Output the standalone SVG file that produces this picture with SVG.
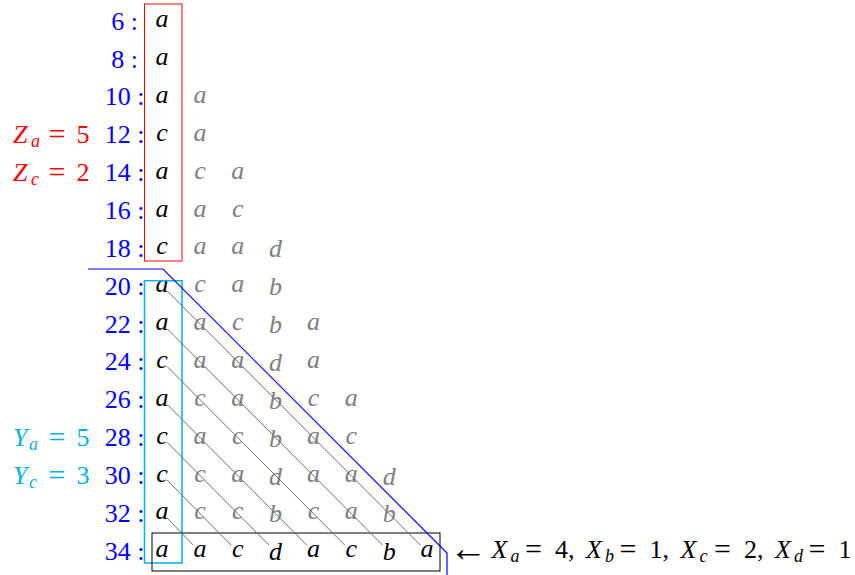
<svg xmlns="http://www.w3.org/2000/svg" width="855" height="575" viewBox="0 0 855 575" font-family="'Liberation Serif', 'DejaVu Serif', serif" font-size="26">
<style>
.k { fill: #000; font-style: italic; text-anchor: middle; }
.g { fill: #808080; font-style: italic; text-anchor: middle; }
.n { fill: #0000ff; text-anchor: middle; }
.it { font-style: italic; }
.sub { font-size: 18px; font-style: italic; }
.eq { font-size: 30px; }
.red { fill: #ff0000; }
.cy { fill: #00b0f0; }
.diag { stroke: #707070; stroke-width: 1; fill: none; }
</style>
<rect width="855" height="575" fill="#fff"/>

<g id="row-labels">
<text class="n" x="124.5" y="29.7">6 :</text>
<text class="n" x="124.5" y="67.6">8 :</text>
<text class="n" x="124.5" y="105.4">10 :</text>
<text class="n" x="124.5" y="143.3">12 :</text>
<text class="n" x="124.5" y="181.1">14 :</text>
<text class="n" x="124.5" y="219.0">16 :</text>
<text class="n" x="124.5" y="256.9">18 :</text>
<text class="n" x="124.5" y="294.7">20 :</text>
<text class="n" x="124.5" y="332.6">22 :</text>
<text class="n" x="124.5" y="370.4">24 :</text>
<text class="n" x="124.5" y="408.3">26 :</text>
<text class="n" x="124.5" y="446.2">28 :</text>
<text class="n" x="124.5" y="484.0">30 :</text>
<text class="n" x="124.5" y="521.9">32 :</text>
<text class="n" x="124.5" y="559.7">34 :</text>
</g>

<g id="z-labels" class="red">
<text x="13" y="143.3"><tspan class="it">Z</tspan><tspan class="sub" x="31" dy="4">a</tspan><tspan class="eq" x="48.5" dy="-3">=</tspan><tspan x="76.5" dy="-1">5</tspan></text>
<text x="13" y="181.1"><tspan class="it">Z</tspan><tspan class="sub" x="31" dy="4">c</tspan><tspan class="eq" x="48.5" dy="-3">=</tspan><tspan x="76.5" dy="-1">2</tspan></text>
</g>

<g id="y-labels" class="cy">
<text x="13" y="446.2"><tspan class="it">Y</tspan><tspan class="sub" x="29" dy="4">a</tspan><tspan class="eq" x="48.5" dy="-3">=</tspan><tspan x="76.5" dy="-1">5</tspan></text>
<text x="13" y="484.0"><tspan class="it">Y</tspan><tspan class="sub" x="29" dy="4">c</tspan><tspan class="eq" x="48.5" dy="-3">=</tspan><tspan x="76.5" dy="-1">3</tspan></text>
</g>

<g id="matrix">
<g id="row-6"><text class="k" x="162" y="27.2">a</text></g>
<g id="row-8"><text class="k" x="162" y="65.1">a</text></g>
<g id="row-10"><text class="k" x="162" y="102.9">a</text><text class="g" x="199.9" y="102.9">a</text></g>
<g id="row-12"><text class="k" x="162" y="140.8">c</text><text class="g" x="199.9" y="140.8">a</text></g>
<g id="row-14"><text class="k" x="162" y="178.6">a</text><text class="g" x="199.9" y="178.6">c</text><text class="g" x="237.7" y="178.6">a</text></g>
<g id="row-16"><text class="k" x="162" y="216.5">a</text><text class="g" x="199.9" y="216.5">a</text><text class="g" x="237.7" y="216.5">c</text></g>
<g id="row-18"><text class="k" x="162" y="254.4">c</text><text class="g" x="199.9" y="254.4">a</text><text class="g" x="237.7" y="254.4">a</text><text class="g" x="275.6" y="257.4">d</text></g>
<g id="row-20"><text class="k" x="162" y="292.2">a</text><text class="g" x="199.9" y="292.2">c</text><text class="g" x="237.7" y="292.2">a</text><text class="g" x="275.6" y="295.2">b</text></g>
<g id="row-22"><text class="k" x="162" y="330.1">a</text><text class="g" x="199.9" y="330.1">a</text><text class="g" x="237.7" y="330.1">c</text><text class="g" x="275.6" y="333.1">b</text><text class="g" x="313.4" y="330.1">a</text></g>
<g id="row-24"><text class="k" x="162" y="367.9">c</text><text class="g" x="199.9" y="367.9">a</text><text class="g" x="237.7" y="367.9">a</text><text class="g" x="275.6" y="370.9">d</text><text class="g" x="313.4" y="367.9">a</text></g>
<g id="row-26"><text class="k" x="162" y="405.8">a</text><text class="g" x="199.9" y="405.8">c</text><text class="g" x="237.7" y="405.8">a</text><text class="g" x="275.6" y="408.8">b</text><text class="g" x="313.4" y="405.8">c</text><text class="g" x="351.3" y="405.8">a</text></g>
<g id="row-28"><text class="k" x="162" y="443.7">c</text><text class="g" x="199.9" y="443.7">a</text><text class="g" x="237.7" y="443.7">c</text><text class="g" x="275.6" y="446.7">b</text><text class="g" x="313.4" y="443.7">a</text><text class="g" x="351.3" y="443.7">c</text></g>
<g id="row-30"><text class="k" x="162" y="481.5">c</text><text class="g" x="199.9" y="481.5">c</text><text class="g" x="237.7" y="481.5">a</text><text class="g" x="275.6" y="484.5">d</text><text class="g" x="313.4" y="481.5">a</text><text class="g" x="351.3" y="481.5">a</text><text class="g" x="389.2" y="484.5">d</text></g>
<g id="row-32"><text class="k" x="162" y="519.4">a</text><text class="g" x="199.9" y="519.4">c</text><text class="g" x="237.7" y="519.4">c</text><text class="g" x="275.6" y="522.4">b</text><text class="g" x="313.4" y="519.4">c</text><text class="g" x="351.3" y="519.4">a</text><text class="g" x="389.2" y="522.4">b</text></g>
<g id="row-34"><text class="k" x="162" y="557.2">a</text><text class="k" x="199.9" y="557.2">a</text><text class="k" x="237.7" y="557.2">c</text><text class="k" x="275.6" y="560.2">d</text><text class="k" x="313.4" y="557.2">a</text><text class="k" x="351.3" y="557.2">c</text><text class="k" x="389.2" y="560.2">b</text><text class="k" x="427" y="557.2">a</text></g>
</g>

<g id="frames" fill="none">
<rect id="red-box" x="144.5" y="4" width="37.5" height="257" stroke="#ff0000" stroke-width="1"/>
<rect id="cyan-box" x="144.5" y="280.7" width="37.5" height="282.3" stroke="#00b0f0" stroke-width="1.5"/>
<rect id="bottom-box" x="152" y="533" width="288" height="38" stroke="#000" stroke-width="1"/>
</g>

<g id="connectors">
<line class="diag" x1="167" y1="290.7" x2="420.5" y2="545.2"/>
<line class="diag" x1="167" y1="328.6" x2="382.7" y2="545.2"/>
<line class="diag" x1="167" y1="366.4" x2="344.8" y2="545.2"/>
<line class="diag" x1="167" y1="404.3" x2="306.9" y2="545.2"/>
<line class="diag" x1="167" y1="442.2" x2="269.1" y2="545.2"/>
<line class="diag" x1="167" y1="480.0" x2="231.2" y2="545.2"/>
<line class="diag" x1="167" y1="517.9" x2="193.4" y2="545.2"/>
<polyline id="blue-boundary" points="88,269 163,269 447,553 447,575" fill="none" stroke="#0000ff" stroke-width="1.2"/>
</g>

<g id="x-label">
<text x="449" y="561" font-size="38">←</text>
<text y="558"><tspan class="it" x="491.5">X</tspan><tspan class="sub" x="510.5" dy="4">a</tspan><tspan class="eq" x="525" dy="-3">=</tspan><tspan x="555" dy="-1">4,</tspan><tspan class="it" x="586">X</tspan><tspan class="sub" x="605" dy="4">b</tspan><tspan class="eq" x="619.5" dy="-3">=</tspan><tspan x="649.5" dy="-1">1,</tspan><tspan class="it" x="680.5">X</tspan><tspan class="sub" x="699.5" dy="4">c</tspan><tspan class="eq" x="714" dy="-3">=</tspan><tspan x="744" dy="-1">2,</tspan><tspan class="it" x="775">X</tspan><tspan class="sub" x="794" dy="4">d</tspan><tspan class="eq" x="808.5" dy="-3">=</tspan><tspan x="838.5" dy="-1">1</tspan></text>
</g>
</svg>
